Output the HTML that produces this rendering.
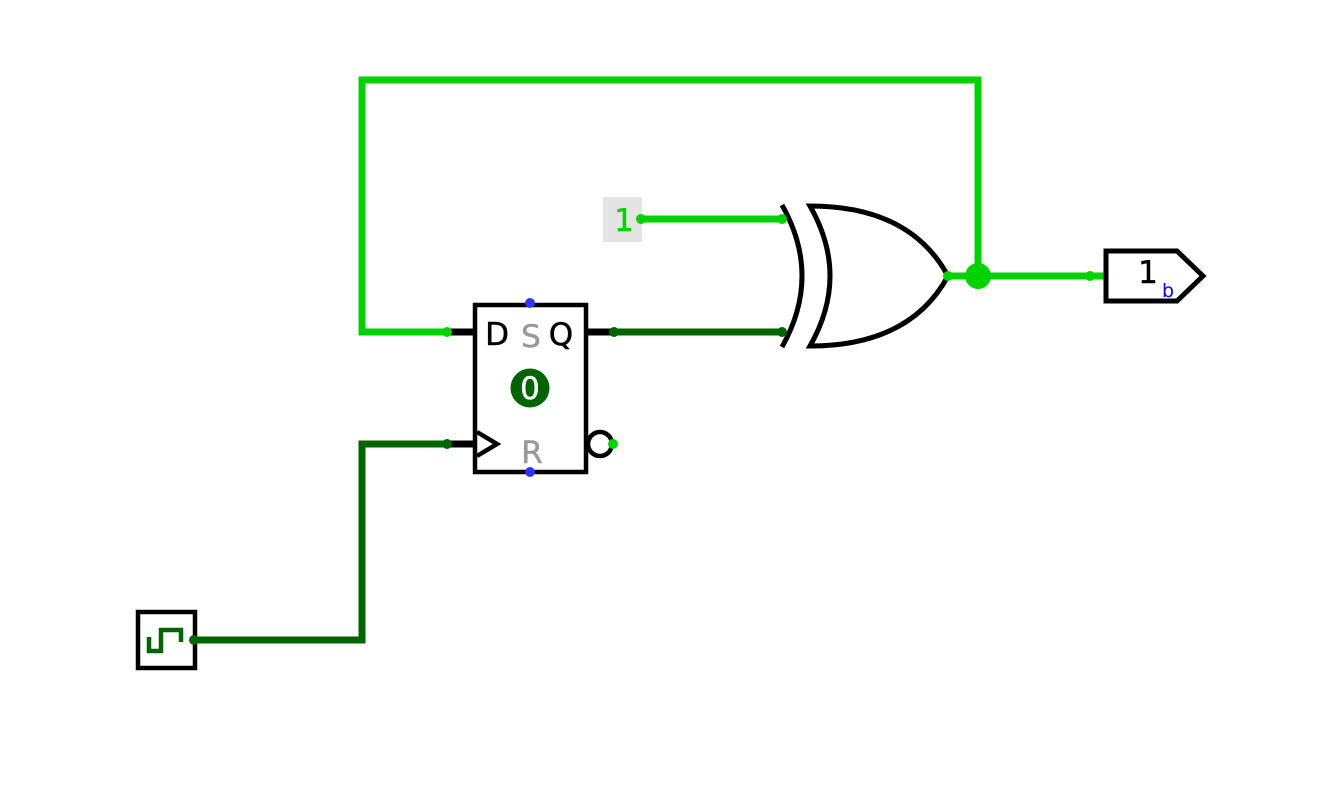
<!DOCTYPE html>
<html><head><meta charset="utf-8"><style>
html,body{margin:0;padding:0;background:#fff;}
svg{display:block;}
text{font-family:"DejaVu Sans","Liberation Sans",sans-serif;}
</style></head><body>
<svg width="1338" height="806" viewBox="0 0 1338 806" xmlns="http://www.w3.org/2000/svg">
<rect width="1338" height="806" fill="#fff"/>
<!-- bright green wires -->
<g stroke="#00d200" stroke-width="7" fill="none" stroke-linecap="square">
<polyline points="447,332 362,332 362,80 978,80 978,276"/>
<line x1="641" y1="219" x2="782" y2="219"/>
<line x1="948" y1="276" x2="1104" y2="276"/>
</g>
<!-- dark green wires -->
<g stroke="#006400" stroke-width="7" fill="none" stroke-linecap="square">
<polyline points="194,640 362,640 362,444 447,444"/>
<line x1="614" y1="332" x2="782" y2="332"/>
</g>
<!-- stubs -->
<g stroke="#000" stroke-width="7">
<line x1="450" y1="332" x2="475" y2="332"/>
<line x1="586" y1="332" x2="612" y2="332"/>
<line x1="450" y1="444" x2="475" y2="444"/>
</g>
<!-- flip-flop -->
<rect x="475" y="305" width="111" height="167" fill="#fff" stroke="#000" stroke-width="4.5"/>
<polyline points="477,432 497,444 477,456" fill="none" stroke="#000" stroke-width="4.5"/>
<circle cx="600" cy="444" r="12" fill="#fff" stroke="#000" stroke-width="4.5"/>
<text x="497" y="345" font-size="31" text-anchor="middle" fill="#000" stroke="#000" stroke-width="0.5">D</text>
<text x="531" y="347" font-size="31" text-anchor="middle" fill="#999" stroke="#999" stroke-width="0.5">S</text>
<text x="561" y="345" font-size="31" text-anchor="middle" fill="#000" stroke="#000" stroke-width="0.5">Q</text>
<text x="532" y="463" font-size="31" text-anchor="middle" fill="#999" stroke="#999" stroke-width="0.5">R</text>
<circle cx="530" cy="388" r="19.5" fill="#006400"/>
<text x="530" y="399" font-size="31" text-anchor="middle" fill="#fff" stroke="#fff" stroke-width="0.5">0</text>
<circle cx="530" cy="303" r="5" fill="#3333ff"/>
<circle cx="530" cy="472" r="5" fill="#3333ff"/>
<!-- pin dots -->
<circle cx="447" cy="332" r="5" fill="#00d200"/>
<circle cx="447" cy="444" r="5" fill="#006400"/>
<circle cx="614" cy="332" r="5" fill="#006400"/>
<circle cx="613" cy="444" r="5" fill="#00d200"/>
<!-- XOR gate -->
<path d="M782,205 Q822,276 782,347" fill="none" stroke="#000" stroke-width="5"/>
<path d="M810,206 Q850,276 810,346 Q910,346 948,276 Q910,206 810,206 Z" fill="#fff" stroke="#000" stroke-width="5" stroke-linejoin="miter"/>
<circle cx="782" cy="219" r="5" fill="#00d200"/>
<circle cx="782" cy="332" r="5" fill="#006400"/>
<circle cx="948" cy="276" r="5" fill="#00d200"/>
<circle cx="978" cy="276" r="13" fill="#00d200"/>
<!-- constant -->
<rect x="603" y="197" width="39" height="45" fill="#e4e4e4"/>
<text x="624" y="231" font-size="31" text-anchor="middle" fill="#00d200" stroke="#00d200" stroke-width="0.5">1</text>
<circle cx="641" cy="219" r="5" fill="#00d200"/>
<!-- output pin -->
<path d="M1106,251 L1177,251 L1203,276 L1177,301 L1106,301 Z" fill="#fff" stroke="#000" stroke-width="5" stroke-linejoin="miter"/>
<circle cx="1090" cy="276" r="5" fill="#00d200"/>
<text x="1148" y="283" font-size="31" text-anchor="middle" fill="#000" stroke="#000" stroke-width="0.5">1</text>
<text x="1168" y="297" font-size="19" text-anchor="middle" fill="#0000ff">b</text>
<!-- clock -->
<rect x="138" y="612" width="57" height="56" fill="#fff" stroke="#000" stroke-width="4.5"/>
<polyline points="149,637 149,651 161,651 161,630 181,630 181,642" fill="none" stroke="#006400" stroke-width="4.5"/>
<circle cx="194" cy="640" r="5" fill="#006400"/>
</svg>
</body></html>
